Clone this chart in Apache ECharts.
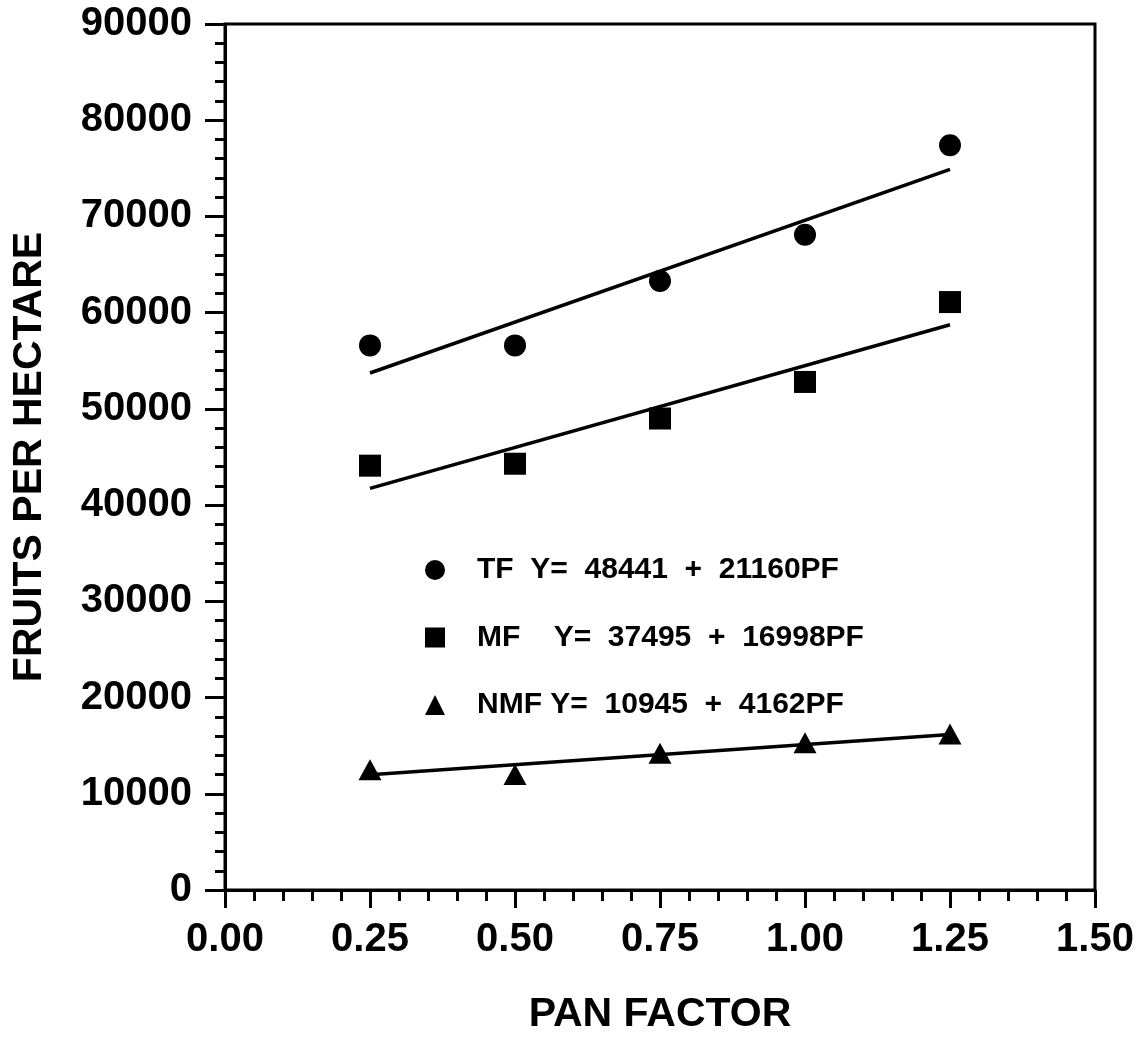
<!DOCTYPE html>
<html>
<head>
<meta charset="utf-8">
<script src="https://cdn.jsdelivr.net/npm/echarts@6/dist/echarts.min.js"></script>
<style>
html,body{margin:0;padding:0;background:#fff;}
#chart{width:1141px;height:1040px;}
</style>
</head>
<body>
<div id="chart"></div>
<script>
// ---- data ----
const panFactor = [0.25, 0.50, 0.75, 1.00, 1.25];
const tfValues  = [56600, 56600, 63300, 68100, 77400];
const mfValues  = [44100, 44300, 49000, 52800, 61100];
const nmfValues = [12500, 12000, 14200, 15300, 16200];
// fitted line end points (at PF 0.25 and 1.25), as drawn
const fitX      = [0.25, 1.25];
const tfFit     = [53731, 74891];
const mfFit     = [41745, 58743];
const nmfFit    = [11986, 16148];
const seriesNames = ['TF', 'MF', 'NMF'];
const equations = ['Y=  48441  +  21160PF', 'Y=  37495  +  16998PF', 'Y=  10945  +  4162PF'];

const FONT = '"Liberation Sans", Arial, Helvetica, sans-serif';
const INK = '#000';

function pairs(xs, ys){ return xs.map((x,i)=>[x, ys[i]]); }

const chart = echarts.init(document.getElementById('chart'));
const eqGap = {TF:'  ', MF:'    ', NMF:' '};
chart.setOption({
  backgroundColor: '#fff',
  animation: false,
  grid: { left: 225, right: 46, top: 24, bottom: 140, show: true, borderColor: INK, borderWidth: 3 },
  legend: {
    data: seriesNames,
    orient: 'vertical',
    left: 420, top: 549,
    itemWidth: 20, itemHeight: 20,
    itemGap: 35.5,
    formatter: function(name){
      const i = seriesNames.indexOf(name);
      return name + eqGap[name] + equations[i];
    },
    textStyle: { fontFamily: FONT, fontWeight: 'bold', fontSize: 30, lineHeight: 32, color: INK, padding: [0,0,0,27] }
  },
  xAxis: {
    type: 'value', min: 0, max: 1.5, interval: 0.25,
    name: 'PAN FACTOR', nameLocation: 'middle', nameGap: 104,
    nameTextStyle: { fontFamily: FONT, fontWeight: 'bold', fontSize: 41, color: INK },
    axisLine: { lineStyle: { color: INK, width: 3 } },
    axisTick: { show: true, length: 18, lineStyle: { color: INK, width: 3 } },
    minorTick: { show: true, splitNumber: 5, length: 11, lineStyle: { color: INK, width: 3 } },
    splitLine: { show: false },
    axisLabel: { margin: 30, fontFamily: FONT, fontWeight: 'bold', fontSize: 40, color: INK,
      formatter: v => v.toFixed(2) }
  },
  yAxis: {
    type: 'value', min: 0, max: 90000, interval: 10000,
    name: 'FRUITS PER HECTARE', nameLocation: 'middle', nameGap: 175, nameRotate: 90,
    nameTextStyle: { fontFamily: FONT, fontWeight: 'bold', fontSize: 41, color: INK },
    axisLine: { show: true, lineStyle: { color: INK, width: 3 } },
    axisTick: { show: true, length: 20, lineStyle: { color: INK, width: 3 } },
    minorTick: { show: true, splitNumber: 5, length: 10, lineStyle: { color: INK, width: 3 } },
    splitLine: { show: false },
    axisLabel: { margin: 33, fontFamily: FONT, fontWeight: 'bold', fontSize: 40, color: INK,
      formatter: v => String(v) }
  },
  series: [
    { name: 'TF', type: 'scatter', symbol: 'circle', symbolSize: 22, z: 5,
      itemStyle: { color: INK, opacity: 1 }, data: pairs(panFactor, tfValues) },
    { name: 'MF', type: 'scatter', symbol: 'rect', symbolSize: 22, z: 5,
      itemStyle: { color: INK, opacity: 1 }, data: pairs(panFactor, mfValues) },
    { name: 'NMF', type: 'scatter', symbol: 'triangle', symbolSize: [23, 21], z: 5,
      itemStyle: { color: INK, opacity: 1 }, data: pairs(panFactor, nmfValues) },
    { name: 'TF fit', type: 'line', showSymbol: false, symbol: 'none', z: 3,
      lineStyle: { color: INK, width: 3.5 }, data: pairs(fitX, tfFit) },
    { name: 'MF fit', type: 'line', showSymbol: false, symbol: 'none', z: 3,
      lineStyle: { color: INK, width: 3.5 }, data: pairs(fitX, mfFit) },
    { name: 'NMF fit', type: 'line', showSymbol: false, symbol: 'none', z: 3,
      lineStyle: { color: INK, width: 3.5 }, data: pairs(fitX, nmfFit) }
  ]
});
</script>
</body>
</html>
